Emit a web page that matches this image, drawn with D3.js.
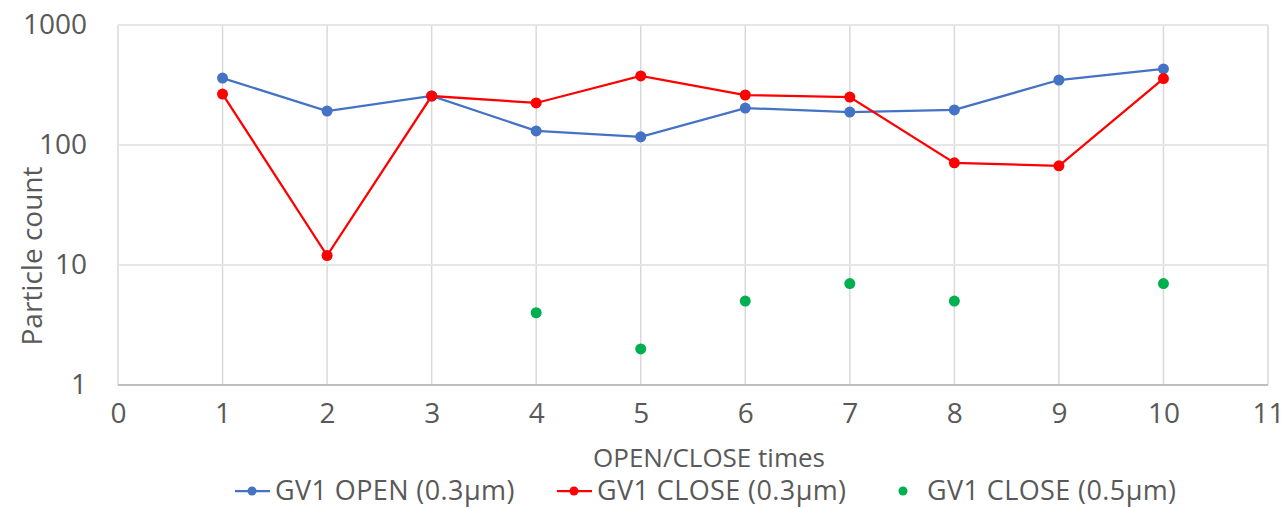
<!DOCTYPE html>
<html>
<head>
<meta charset="utf-8">
<script src="https://cdn.jsdelivr.net/npm/d3@7"></script>
<style>
  body { margin: 0; background: #fff; }
  text { font-family: "Open Sans", sans-serif; fill: #595959; }
</style>
</head>
<body>
<script>
// chart data
var times = [1, 2, 3, 4, 5, 6, 7, 8, 9, 10];
var openSmall = [361, 192, 256, 131, 117, 203, 188, 196, 348, 430];
var closeSmall = [266, 12, 256, 224, 376, 261, 251, 71, 67, 358];
var closeLargeX = [4, 5, 6, 7, 8, 10];
var closeLarge = [4, 2, 5, 7, 5, 7];
var xTicks = [0, 1, 2, 3, 4, 5, 6, 7, 8, 9, 10, 11];
var yTicks = [1, 10, 100, 1000];
var seriesNames = ["GV1 OPEN (0.3µm)", "GV1 CLOSE (0.3µm)", "GV1 CLOSE (0.5µm)"];

var width = 1288, height = 508;
var margin = { top: 25, right: 20, bottom: 123, left: 118 };

var svg = d3.select("body").append("svg")
    .attr("width", width)
    .attr("height", height);

var x = d3.scaleLinear().domain([0, 11]).range([margin.left, width - margin.right]);
var y = d3.scaleLog().domain([1, 1000]).range([height - margin.bottom, margin.top]);

// gridlines
svg.append("g")
  .selectAll("line")
  .data(xTicks)
  .enter().append("line")
    .attr("x1", function(d) { return x(d); })
    .attr("x2", function(d) { return x(d); })
    .attr("y1", y(1000))
    .attr("y2", y(1))
    .attr("stroke", "#d9d9d9")
    .attr("stroke-width", 1.5);

svg.append("g")
  .selectAll("line")
  .data(yTicks)
  .enter().append("line")
    .attr("x1", x(0))
    .attr("x2", x(11))
    .attr("y1", function(d) { return y(d); })
    .attr("y2", function(d) { return y(d); })
    .attr("stroke", function(d) { return d === 1 ? "#bfbfbf" : "#e6e6e6"; })
    .attr("stroke-width", 2);

// axes
var xAxis = svg.append("g")
    .attr("transform", "translate(0," + y(1) + ")")
    .call(d3.axisBottom(x).tickValues(xTicks).tickSize(0).tickPadding(18));
xAxis.select(".domain").remove();
xAxis.selectAll("text").style("font-size", "28px").attr("fill", "#595959");

var yAxis = svg.append("g")
    .attr("transform", "translate(" + x(0) + ",0)")
    .call(d3.axisLeft(y).tickValues(yTicks).tickFormat(d3.format("d")).tickSize(0).tickPadding(31));
yAxis.select(".domain").remove();
yAxis.selectAll("text").style("font-size", "28px").attr("fill", "#595959");

// axis titles
svg.append("text")
    .attr("x", 709)
    .attr("y", 467)
    .attr("text-anchor", "middle")
    .style("font-size", "26px")
    .text("OPEN/CLOSE times");

svg.append("text")
    .attr("transform", "translate(42,256) rotate(-90)")
    .attr("text-anchor", "middle")
    .style("font-size", "28px")
    .text("Particle count");

// lines
var line = d3.line()
    .x(function(d) { return x(d[0]); })
    .y(function(d) { return y(d[1]); });

var openData = d3.zip(times, openSmall);
var closeData = d3.zip(times, closeSmall);
var greenData = d3.zip(closeLargeX, closeLarge);

svg.append("path")
    .datum(openData)
    .attr("d", line)
    .attr("fill", "none")
    .attr("stroke", "#4472c4")
    .attr("stroke-width", 2.25);

svg.append("path")
    .datum(closeData)
    .attr("d", line)
    .attr("fill", "none")
    .attr("stroke", "#ff0000")
    .attr("stroke-width", 2.25);

function dots(data, color) {
  svg.append("g").selectAll("circle")
    .data(data)
    .enter().append("circle")
      .attr("cx", function(d) { return x(d[0]); })
      .attr("cy", function(d) { return y(d[1]); })
      .attr("r", 5.5)
      .attr("fill", color);
}
dots(openData, "#4472c4");
dots(closeData, "#ff0000");
dots(greenData, "#00b050");

// legend
var legendColors = ["#4472c4", "#ff0000", "#00b050"];
var legendX = [235, 557, 893];
var legend = svg.append("g").selectAll("g")
  .data(seriesNames)
  .enter().append("g")
    .attr("transform", function(d, i) { return "translate(" + legendX[i] + ",491)"; });

legend.filter(function(d, i) { return i < 2; }).append("line")
    .attr("x1", 0).attr("x2", 35)
    .attr("stroke", function(d, i) { return legendColors[i]; })
    .attr("stroke-width", 2.25);

legend.append("circle")
    .attr("cx", function(d, i) { return i < 2 ? 17 : 10; })
    .attr("r", 4.5)
    .attr("fill", function(d, i) { return legendColors[i]; });

legend.append("text")
    .attr("x", function(d, i) { return i < 2 ? 40 : 34; })
    .attr("dy", "0.35em")
    .style("font-size", "27px")
    .style("letter-spacing", "0.4px")
    .text(function(d) { return d; });
</script>
</body>
</html>
